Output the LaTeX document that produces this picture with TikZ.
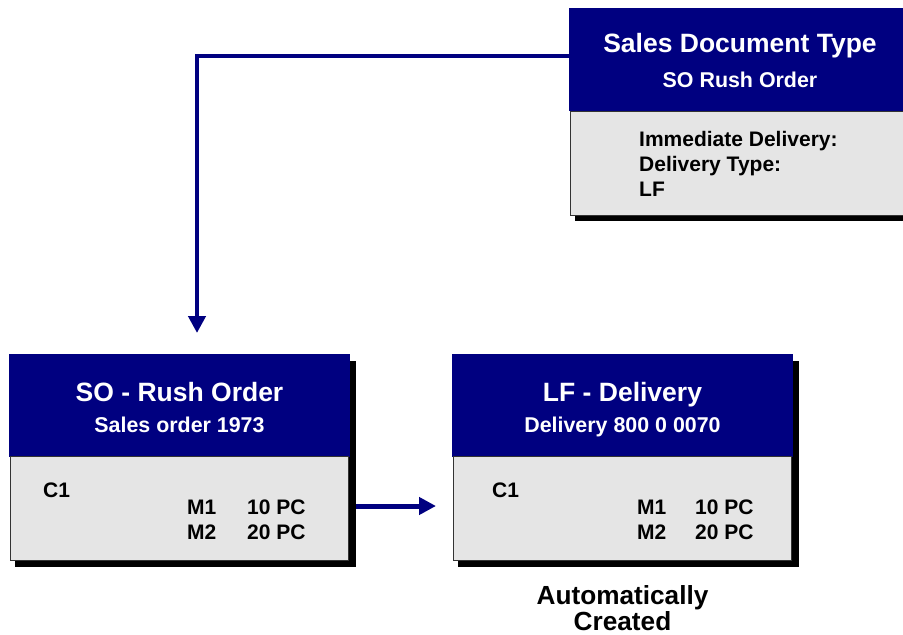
\documentclass[tikz,border=0pt]{standalone}
\usepackage{fontspec}
\setmainfont{Liberation Sans}
\usetikzlibrary{arrows.meta}
\definecolor{navy}{RGB}{0,0,128}
\definecolor{boxgray}{RGB}{229,229,229}
\begin{document}
\begin{tikzpicture}[x=1pt,y=-1pt,
  hdr/.style={fill=navy,draw=none,minimum width=341pt,minimum height=103pt,inner sep=0pt,outer sep=0pt,anchor=north west},
  bodybox/.style={fill=boxgray,draw=black!80,line width=1pt,minimum width=338pt,minimum height=103pt,inner sep=0pt,outer sep=0pt,anchor=north west},
  shadowbox/.style={fill=black,draw=none,minimum width=341pt,minimum height=206pt,inner sep=0pt,outer sep=0pt,anchor=north west},
  title/.style={text=white,font=\bfseries\fontsize{26.5}{30}\selectfont,anchor=base,inner sep=0pt},
  subtitle/.style={text=white,font=\bfseries\fontsize{21.4}{25}\selectfont,anchor=base,inner sep=0pt},
  item/.style={text=black,font=\bfseries\fontsize{21}{25}\selectfont,anchor=base west,inner sep=0pt},
  note/.style={text=black,font=\bfseries\fontsize{26.2}{26}\selectfont,anchor=base,inner sep=0pt},
  conn/.style={draw=navy,line width=4.5pt,-{Triangle[width=17pt,length=17pt]}}
]
\useasboundingbox (0,0) rectangle (903,635);
\clip (0,0) rectangle (903,635);

% ---- top right: Sales Document Type
\node[shadowbox] (tshadow) at (575,15) {};
\node[hdr,minimum width=342pt] (thdr) at (569,8) {};
\node[bodybox,minimum width=340pt,minimum height=104pt] (tbody) at (570,111) {};
\node[title] (ttitle) at (740,52) {Sales Document Type};
\node[subtitle] (tsub) at (740,87) {SO Rush Order};
\node[item] (t1) at (639,146) {Immediate Delivery:};
\node[item] (t2) at (639,171) {Delivery Type:};
\node[item] (t3) at (639,196) {LF};

% ---- left: SO - Rush Order
\node[shadowbox] (lshadow) at (15,361) {};
\node[hdr] (lhdr) at (9,354) {};
\node[bodybox,minimum height=104pt] (lbody) at (10,456) {};
\node[title] (ltitle) at (179.5,401) {SO - Rush Order};
\node[subtitle] (lsub) at (179.5,432) {Sales order 1973};
\node[item] (lc) at (43,497) {C1};
\node[item] (lm1) at (187,514) {M1};
\node[item] (lq1) at (247,514) {10 PC};
\node[item] (lm2) at (187,539) {M2};
\node[item] (lq2) at (247,539) {20 PC};

% ---- middle: LF - Delivery
\node[shadowbox] (mshadow) at (458,361) {};
\node[hdr] (mhdr) at (452,354) {};
\node[bodybox,minimum height=104pt] (mbody) at (453,456) {};
\node[title] (mtitle) at (622.5,401) {LF - Delivery};
\node[subtitle] (msub) at (622.5,432) {Delivery 800 0 0070};
\node[item] (mc) at (492,497) {C1};
\node[item] (mm1) at (637,514) {M1};
\node[item] (mq1) at (695,514) {10 PC};
\node[item] (mm2) at (637,539) {M2};
\node[item] (mq2) at (695,539) {20 PC};

\node[note] (auto1) at (622.5,604) {Automatically};
\node[note] (auto2) at (622.5,630) {Created};

% ---- connectors
\coordinate (drop) at (197,333);
\draw[conn] ([yshift=3.5pt]thdr.west) -| (drop);
\draw[conn,line width=5pt] ([xshift=8pt,yshift=2pt]lbody.east) -- ([xshift=-17pt,yshift=2pt]mbody.west);
\end{tikzpicture}
\end{document}
